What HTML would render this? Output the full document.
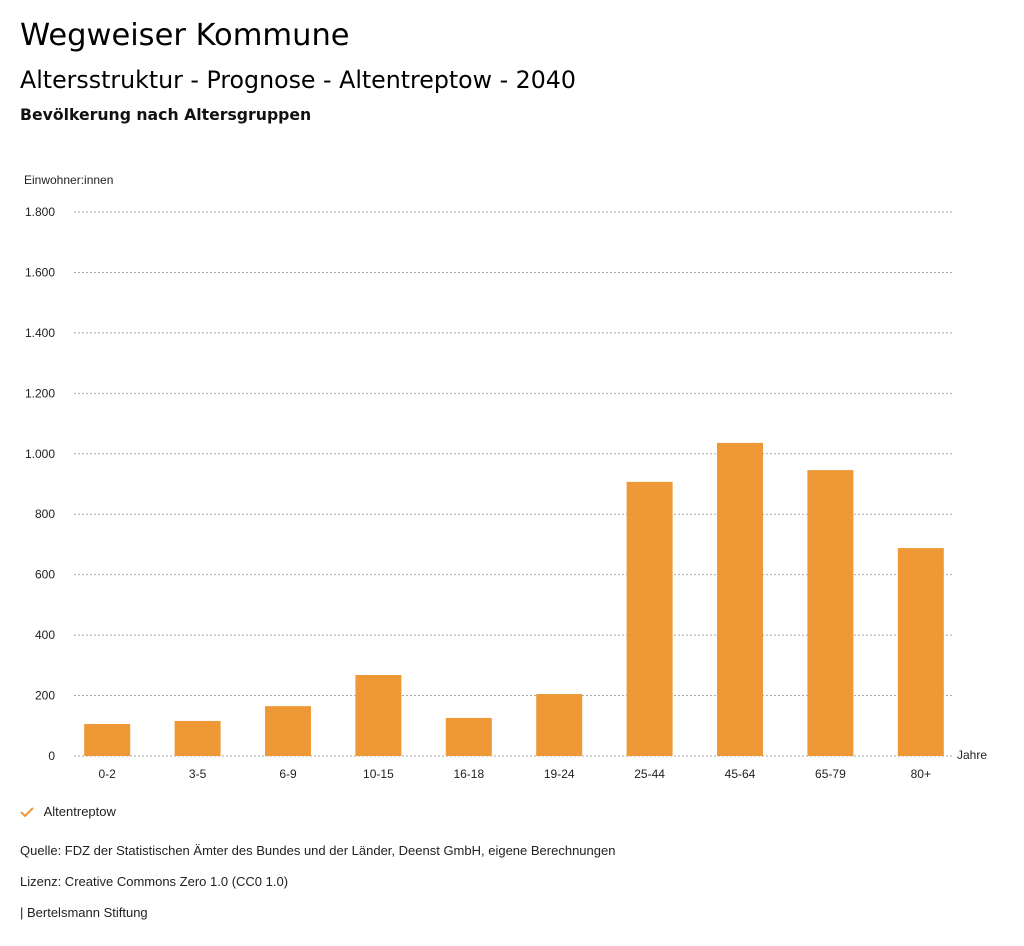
<!DOCTYPE html>
<html><head><meta charset="utf-8"><style>
body{margin:0;width:1024px;height:946px;background:#fff;font-family:"Liberation Sans","DejaVu Sans",sans-serif;color:#000;overflow:hidden}
.t{position:absolute;left:20px;white-space:nowrap}
.h{font-family:"DejaVu Sans",sans-serif}
</style></head><body>
<div class="t h" style="top:18px;font-size:30.5px">Wegweiser Kommune</div>
<div class="t h" style="top:66px;font-size:23.7px">Altersstruktur - Prognose - Altentreptow - 2040</div>
<div class="t h" style="top:105px;font-size:15.7px;font-weight:bold;color:#111">Bevölkerung nach Altersgruppen</div>
<svg id="chart" width="1024" height="800" style="position:absolute;left:0;top:0"></svg>
<div class="t" style="top:843px;font-size:13px;color:#222">Quelle: FDZ der Statistischen Ämter des Bundes und der Länder, Deenst GmbH, eigene Berechnungen</div>
<div class="t" style="top:874px;font-size:13px;color:#222">Lizenz: Creative Commons Zero 1.0 (CC0 1.0)</div>
<div class="t" style="top:905px;font-size:13px;color:#222">| Bertelsmann Stiftung</div>
<div style="position:absolute;left:20px;top:804px;font-size:13px;color:#222">
<svg width="16" height="14" style="vertical-align:middle"><path d="M1 6 L5 10 L13 2" stroke="#ee9935" stroke-width="2" fill="none"/></svg>
<span style="margin-left:4px">Altentreptow</span></div>
<script>
const categories=["0-2","3-5","6-9","10-15","16-18","19-24","25-44","45-64","65-79","80+"];
const values=[106,116,165,268,126,205,907,1036,946,688];
const ticks=[0,200,400,600,800,1000,1200,1400,1600,1800];
const tickLabels=["0","200","400","600","800","1.000","1.200","1.400","1.600","1.800"];
const NS="http://www.w3.org/2000/svg";
const svg=document.getElementById("chart");
const y0=756,yTop=212,maxV=1800,x0=62,step=90.4,bw=46;
const y=v=>y0-(v/maxV)*(y0-yTop);
const x=i=>x0+step*(i+0.5);
function mk(t,a){const e=document.createElementNS(NS,t);for(const k in a)e.setAttribute(k,a[k]);svg.appendChild(e);return e;}
ticks.forEach((v,i)=>{
 const g=mk("line",{x1:74,x2:953,y1:y(v),y2:y(v),stroke:"#aaa","stroke-dasharray":"2,2","stroke-width":1});
 
 
 const t=mk("text",{x:55,y:y(v)+4,"text-anchor":"end","font-size":12,fill:"#222"});
 t.textContent=tickLabels[i];
 
 
});
categories.forEach((c,i)=>{
 const r=mk("rect",{x:x(i)-bw/2,y:y(values[i]),width:bw,height:y0-y(values[i]),fill:"#ee9935"});
 
 
 const t=mk("text",{x:x(i),y:778,"text-anchor":"middle","font-size":12,fill:"#222"});
 t.textContent=c;
 
 
});
const yt=mk("text",{x:24,y:184,"font-size":12,fill:"#222"});yt.textContent="Einwohner:innen";


const xt=mk("text",{x:957,y:759,"font-size":12,fill:"#222"});xt.textContent="Jahre";


</script>
</body></html>
